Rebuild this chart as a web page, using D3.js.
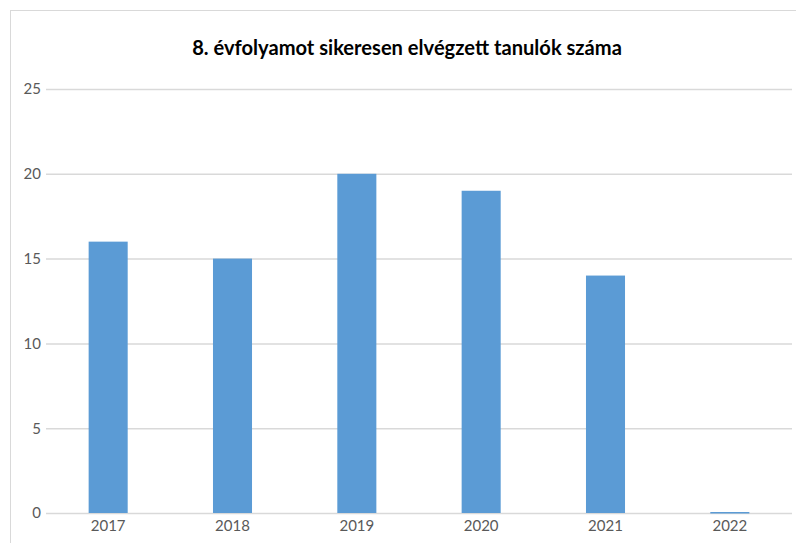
<!DOCTYPE html>
<html><head><meta charset="utf-8">
<script src="https://cdn.jsdelivr.net/npm/d3@7"></script>
<style>body{margin:0;background:#fff}svg{display:block}</style>
</head><body>
<svg id="c" width="796" height="543"></svg>
<script>
const title = "8. évfolyamot sikeresen elvégzett tanulók száma";
const categories = ["2017","2018","2019","2020","2021","2022"];
const values = [16,15,20,19,14,0];
const yTicks = [0,5,10,15,20,25];

const svg = d3.select("#c");
const W = 796, H = 543;
svg.append("rect").attr("x",10.5).attr("y",10.5).attr("width",W+20).attr("height",H+20)
  .attr("fill","#fff").attr("stroke","#d9d9d9").attr("stroke-width",1);

const x = d3.scaleBand().domain(categories).range([46,792]).paddingInner(0.686).paddingOuter(0.343);
const y = d3.scaleLinear().domain([0,25]).range([513,89]);

const gy = svg.append("g").attr("transform","translate(46,0)")
  .call(d3.axisLeft(y).tickValues(yTicks).tickSize(-746).tickPadding(5));
gy.select(".domain").remove();
gy.selectAll("line").attr("stroke","#d9d9d9").attr("stroke-width",1.5);
gy.selectAll("text").attr("fill","#595959").style("font-family","Lato, 'Open Sans', sans-serif").style("font-size","15px");

svg.append("g").selectAll("rect").data(values).join("rect")
  .attr("x",(d,i)=>x(categories[i])).attr("width",x.bandwidth())
  .attr("y",d=>y(d)-(d===0?1:0)).attr("height",d=>Math.max(1.5,y(0)-y(d)))
  .attr("fill","#5b9bd5");

const gx = svg.append("g").attr("transform","translate(0,513)")
  .call(d3.axisBottom(x).tickSize(0).tickPadding(7));
gx.select(".domain").remove();
gx.selectAll("text").attr("fill","#595959").style("font-family","Lato, 'Open Sans', sans-serif").style("font-size","15px");

const t = svg.append("text").attr("x",407).attr("y",55).attr("text-anchor","middle")
  .style("font-family","Lato, 'Open Sans', sans-serif").style("font-weight","bold").style("font-size","19px")
  .attr("fill","#000").text(title);
const len = t.node().getComputedTextLength();
t.style("font-size",(19*430/len).toFixed(2)+"px");
</script>
</body></html>
